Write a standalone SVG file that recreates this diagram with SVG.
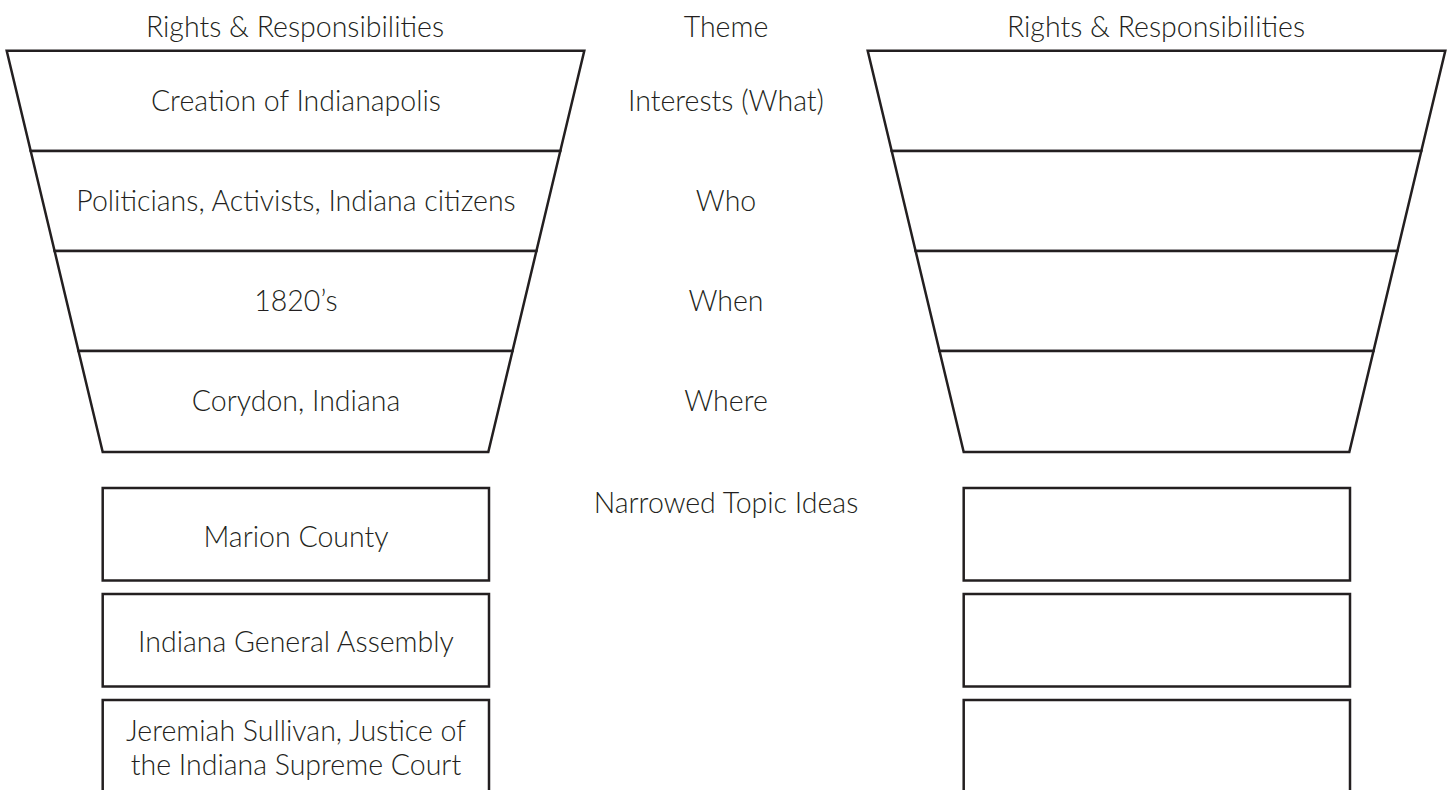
<svg xmlns="http://www.w3.org/2000/svg" width="1455" height="790" viewBox="0 0 1455 790">
<style>
.s{fill:#fff;stroke:#231f20;stroke-width:2.5;stroke-linejoin:miter}
.t{font-family:Lato,"Open Sans","Liberation Sans",sans-serif;font-weight:300;font-size:28.5px;fill:#231f20;text-anchor:middle}
</style>
<rect width="1455" height="790" fill="#fff"/>
<g id="headers">
<text class="t" x="295" y="37">Rights &amp; Responsibilities</text>
<text class="t" x="726" y="37">Theme</text>
<text class="t" x="1156" y="37">Rights &amp; Responsibilities</text>
</g>
<g id="left-funnel">
<g id="L1"><polygon class="s" points="6.7,50.7 584.3,50.7 560.3,151 30.7,151"/><text class="t" x="296" y="111">Creation of Indianapolis</text></g>
<g id="L2"><polygon class="s" points="30.7,151 560.3,151 536.4,251 54.6,251"/><text class="t" x="296" y="211">Politicians, Activists, Indiana citizens</text></g>
<g id="L3"><polygon class="s" points="54.6,251 536.4,251 512.5,351 78.5,351"/><text class="t" x="296" y="311">1820’s</text></g>
<g id="L4"><polygon class="s" points="78.5,351 512.5,351 488.3,452 102.7,452"/><text class="t" x="296" y="411">Corydon, Indiana</text></g>
</g>
<g id="theme">
<text class="t" x="726" y="111">Interests (What)</text>
<text class="t" x="726" y="211">Who</text>
<text class="t" x="726" y="311">When</text>
<text class="t" x="726" y="411">Where</text>
<text class="t" x="726" y="513">Narrowed Topic Ideas</text>
</g>
<g id="right-funnel">
<g id="R1"><polygon class="s" points="867.7,50.7 1445.3,50.7 1421.3,151 891.7,151"/></g>
<g id="R2"><polygon class="s" points="891.7,151 1421.3,151 1397.4,251 915.6,251"/></g>
<g id="R3"><polygon class="s" points="915.6,251 1397.4,251 1373.5,351 939.5,351"/></g>
<g id="R4"><polygon class="s" points="939.5,351 1373.5,351 1349.3,452 963.7,452"/></g>
</g>
<g id="left-boxes">
<g id="LB1"><rect class="s" x="102.7" y="488" width="386.3" height="92.5"/><text class="t" x="296" y="547">Marion County</text></g>
<g id="LB2"><rect class="s" x="102.7" y="594" width="386.3" height="92.5"/><text class="t" x="296" y="652">Indiana General Assembly</text></g>
<g id="LB3"><rect class="s" x="102.7" y="700" width="386.3" height="95"/><text class="t" x="296" y="741">Jeremiah Sullivan, Justice of</text><text class="t" x="296" y="775">the Indiana Supreme Court</text></g>
</g>
<g id="right-boxes">
<g id="RB1"><rect class="s" x="963.7" y="488" width="386.3" height="92.5"/></g>
<g id="RB2"><rect class="s" x="963.7" y="594" width="386.3" height="92.5"/></g>
<g id="RB3"><rect class="s" x="963.7" y="700" width="386.3" height="95"/></g>
</g>
</svg>
